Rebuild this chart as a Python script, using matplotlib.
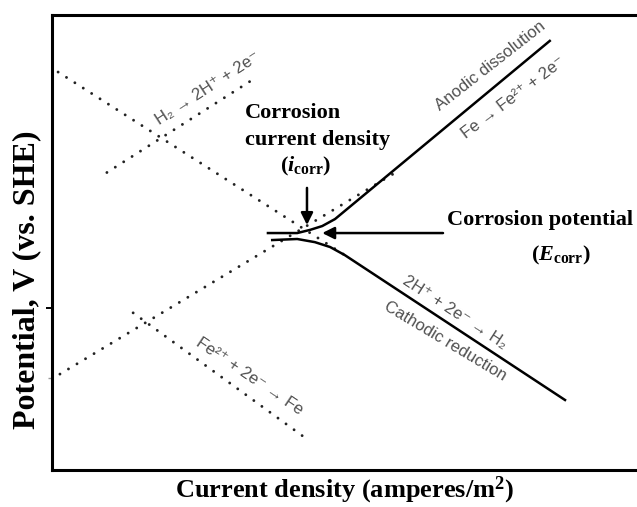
import matplotlib.pyplot as plt

# log current density (arb. units) and potential (V vs SHE)
h2_ox_x = [0.90, 3.36]
h2_ox_v = [-0.05, 0.223]
h_red_x = [0.10, 4.80]
h_red_v = [0.237, -0.286]
fe_ox_x = [0.13, 5.70]
fe_ox_v = [-0.626, -0.043]
fe_red_x = [1.33, 4.11]
fe_red_v = [-0.451, -0.803]

anodic_x = [3.54, 4.02, 4.23, 4.43, 4.64, 8.16]
anodic_v = [-0.223, -0.223, -0.214, -0.203, -0.183, 0.326]
cathodic_x = [3.61, 4.02, 4.31, 4.56, 4.80, 8.41]
cathodic_v = [-0.243, -0.240, -0.249, -0.263, -0.286, -0.70]

i_corr = 4.18
e_corr = -0.223
yticks = [-0.437]
yticks_minor = [-0.637]

plt.rcParams['mathtext.fontset'] = 'custom'
plt.rcParams['mathtext.rm'] = 'Liberation Serif:bold'
plt.rcParams['mathtext.it'] = 'Liberation Serif:bold:italic'
plt.rcParams['mathtext.bf'] = 'Liberation Serif:bold'

fig = plt.figure(figsize=(6.37, 5.07), dpi=100)
ax = fig.add_axes([52 / 637, 37 / 507, 610 / 637, 455 / 507])
ax.set_xlim(0, 10)
ax.set_ylim(-0.9, 0.4)

dots = dict(color='#222222', lw=2.1, linestyle=(0, (0.01, 3.4)), dash_capstyle='round')
ax.plot(h2_ox_x, h2_ox_v, **dots)
ax.plot(h_red_x, h_red_v, **dots)
ax.plot(fe_ox_x, fe_ox_v, **dots)
ax.plot(fe_red_x, fe_red_v, **dots)

ax.plot(anodic_x, anodic_v, color='black', lw=1.8)
ax.plot(cathodic_x, cathodic_v, color='black', lw=1.8)

arrow = dict(arrowstyle='-|>', color='black', lw=1.8, mutation_scale=18, shrinkA=0, shrinkB=0)
ax.annotate('', xy=(i_corr, -0.2), xytext=(i_corr, -0.094), arrowprops=arrow)
ax.annotate('', xy=(4.43, e_corr), xytext=(6.41, e_corr), arrowprops=arrow)

serif = dict(family='Liberation Serif', fontweight='bold', fontsize=16, color='black')
ax.text(3.16, 0.12, 'Corrosion', ha='left', va='center', **serif)
ax.text(3.16, 0.043, 'current density', ha='left', va='center', **serif)
ax.text(4.16, -0.034, r'$(i_{\rm corr})$', ha='center', va='center', fontsize=16)
ax.text(6.48, -0.186, 'Corrosion potential', ha='left', va='center', **serif)
ax.text(8.34, -0.286, r'$(E_{\rm corr})$', ha='center', va='center', fontsize=16)

sans = dict(family=['Liberation Sans', 'DejaVu Sans'], fontsize=12, color='#505050',
            ha='center', va='center', rotation_mode='anchor')
ax.text(2.56, 0.191, 'H\u2082 \u2192 2H\u207a + 2e\u207b', rotation=33, **sans)
ax.text(7.18, 0.254, 'Anodic dissolution', rotation=38, clip_on=True, **sans)
ax.text(7.56, 0.163, 'Fe \u2192 Fe\u00b2\u207a + 2e\u207b', rotation=37, **sans)
ax.text(6.61, -0.451, '2H\u207a + 2e\u207b \u2192 H\u2082', rotation=-33, **sans)
ax.text(6.44, -0.531, 'Cathodic reduction', rotation=-31, **sans)
ax.text(3.23, -0.631, 'Fe\u00b2\u207a + 2e\u207b \u2192 Fe', rotation=-34, **sans)

for s in ax.spines.values():
    s.set_linewidth(2.2)
ax.set_xticks([])
ax.set_yticks(yticks)
ax.set_yticks(yticks_minor, minor=True)
ax.set_yticklabels([])
ax.tick_params(axis='y', which='major', direction='out', length=4, width=1.4)
ax.tick_params(axis='y', which='minor', direction='out', length=3, width=1, color='#999999')

fig.text(27 / 637, 1 - 280 / 507, 'Potential, V (vs. SHE)', rotation=90, ha='center', va='center',
         family='Liberation Serif', fontweight='bold', fontsize=23)
fig.text(345 / 637, 1 - 490 / 507, r'Current density (amperes/m$^{\mathbf{2}}$)', ha='center', va='center',
         family='Liberation Serif', fontweight='bold', fontsize=19)

fig.savefig('out.png', dpi=100)
